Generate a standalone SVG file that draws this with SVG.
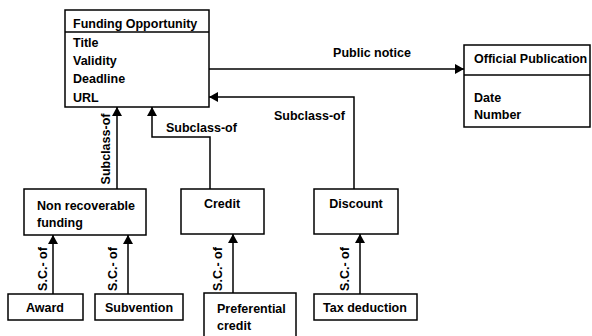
<svg xmlns="http://www.w3.org/2000/svg" width="592" height="336" viewBox="0 0 592 336">
<style>
.box{fill:#fff;stroke:#000;stroke-width:1.5}
.t{font-family:"Liberation Sans",Arial,sans-serif;font-weight:bold;font-size:12.5px;fill:#000}
.c{stroke:#000;stroke-width:1.5;fill:none}
.m{text-anchor:middle}
</style>
<defs>
<marker id="ah" viewBox="0 0 10 10" refX="10" refY="5" markerWidth="9" markerHeight="10" markerUnits="userSpaceOnUse" orient="auto" preserveAspectRatio="none">
<path d="M0,0 L10,5 L0,10 z" fill="#000"/>
</marker>
</defs>
<rect width="592" height="336" fill="#fff"/>
<g id="connectors">
<line class="c" x1="209" y1="69" x2="464" y2="69" marker-end="url(#ah)"/>
<text class="t m" x="372" y="57">Public notice</text>
<polyline class="c" points="354,189 354,97 209,97" marker-end="url(#ah)"/>
<text class="t" x="274" y="120">Subclass-of</text>
<polyline class="c" points="210,189 210,137 152,137 152,107" marker-end="url(#ah)"/>
<text class="t" x="166" y="132">Subclass-of</text>
<line class="c" x1="117" y1="189" x2="117" y2="107" marker-end="url(#ah)"/>
<text class="t m" transform="translate(110,149) rotate(-90)">Subclass-of</text>
<line class="c" x1="53" y1="294" x2="53" y2="235" marker-end="url(#ah)"/>
<text class="t m" transform="translate(47,269) rotate(-90)">S.C.- of</text>
<line class="c" x1="128" y1="294" x2="128" y2="235" marker-end="url(#ah)"/>
<text class="t m" transform="translate(117,269) rotate(-90)">S.C.- of</text>
<line class="c" x1="233" y1="293" x2="233" y2="234" marker-end="url(#ah)"/>
<text class="t m" transform="translate(222,269) rotate(-90)">S.C.- of</text>
<line class="c" x1="360" y1="294" x2="360" y2="234" marker-end="url(#ah)"/>
<text class="t m" transform="translate(349,269) rotate(-90)">S.C.- of</text>
</g>
<g id="funding-opportunity">
<rect class="box" x="65" y="10" width="144" height="97"/>
<line class="c" x1="65" y1="32" x2="209" y2="32"/>
<text class="t" x="73" y="28">Funding Opportunity</text>
<text class="t" x="73" y="47">Title</text>
<text class="t" x="73" y="65">Validity</text>
<text class="t" x="73" y="83">Deadline</text>
<text class="t" x="73" y="102">URL</text>
</g>
<g id="official-publication">
<rect class="box" x="464" y="45" width="126" height="82"/>
<line class="c" x1="464" y1="75" x2="590" y2="75"/>
<text class="t" x="474" y="63">Official Publication</text>
<text class="t" x="474" y="102">Date</text>
<text class="t" x="474" y="119">Number</text>
</g>
<g id="non-recoverable-funding">
<rect class="box" x="24" y="189" width="122" height="46"/>
<text class="t" x="37" y="210">Non recoverable</text>
<text class="t" x="37" y="227">funding</text>
</g>
<g id="credit">
<rect class="box" x="181" y="189" width="83" height="45"/>
<text class="t m" x="222" y="208">Credit</text>
</g>
<g id="discount">
<rect class="box" x="314" y="189" width="84" height="45"/>
<text class="t m" x="356" y="208">Discount</text>
</g>
<g id="award">
<rect class="box" x="8" y="294" width="75" height="26"/>
<text class="t m" x="45" y="312">Award</text>
</g>
<g id="subvention">
<rect class="box" x="95" y="294" width="88" height="26"/>
<text class="t m" x="139" y="312">Subvention</text>
</g>
<g id="preferential-credit">
<rect class="box" x="204" y="293" width="92" height="50"/>
<text class="t" x="217" y="313">Preferential</text>
<text class="t" x="217" y="330">credit</text>
</g>
<g id="tax-deduction">
<rect class="box" x="314" y="294" width="103" height="26"/>
<text class="t m" x="365" y="312">Tax deduction</text>
</g>
</svg>
